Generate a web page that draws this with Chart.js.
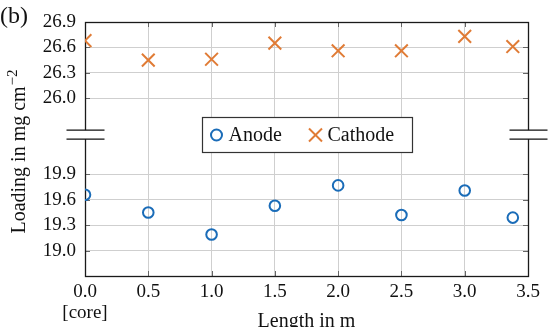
<!DOCTYPE html>
<html><head><meta charset="utf-8">
<script src="https://cdn.jsdelivr.net/npm/chart.js@4/dist/chart.umd.min.js"></script>
<style>html,body{margin:0;padding:0;background:#fff}#wrap{width:550px;height:327px}</style>
</head><body><div id="wrap"><canvas id="c" width="550" height="327"></canvas></div>
<script>
const positions = [0, 0.5, 1.0, 1.5, 2.0, 2.5, 3.0, 3.38];
const anode = [19.66, 19.45, 19.19, 19.53, 19.77, 19.42, 19.71, 19.39];
const cathode = [26.68, 26.45, 26.46, 26.65, 26.56, 26.56, 26.73, 26.61];
const xTicks = [0, 0.5, 1.0, 1.5, 2.0, 2.5, 3.0, 3.5];
const yTicks = [19.0, 19.3, 19.6, 19.9, 26.0, 26.3, 26.6, 26.9];
const seriesNames = ['Anode', 'Cathode'];
const panelLabel = '(b)';
const xTitle = 'Length in m';
const yTitle = 'Loading in mg cm';
const yTitleSup = '\u22122';

const GAP = 5.2;          // value span cut out by the axis break
const BREAK_AT = 20.37;   // axis coordinate where the break is drawn
const toAxis = v => v > 23 ? v - GAP : v;
const fromAxis = v => v > BREAK_AT ? v + GAP : v;

const BLUE = '#1a6cb8', ORANGE = '#e07b35';
const FONT = 'Liberation Serif';
const FS = 19;   // tick labels
const FL = 20;   // legend and titles

function seg(ctx, x1, y1, x2, y2) { ctx.beginPath(); ctx.moveTo(x1, y1); ctx.lineTo(x2, y2); ctx.stroke(); }
const al = v => Math.round(v) + 0.5;

const decor = {
  id: 'decor',
  beforeDatasetsDraw(chart) {
    const { ctx, chartArea: a, scales: { x, y } } = chart;
    ctx.save();
    ctx.strokeStyle = '#666'; ctx.lineWidth = 1;
    xTicks.forEach(t => { const px = al(x.getPixelForValue(t)); seg(ctx, px, a.top, px, a.top + 5); seg(ctx, px, a.bottom, px, a.bottom - 5); });
    yTicks.forEach(t => { const py = al(y.getPixelForValue(toAxis(t))); seg(ctx, a.left, py, a.left + 5, py); seg(ctx, a.right, py, a.right - 5, py); });
    ctx.strokeStyle = '#1a1a1a'; ctx.lineWidth = 1.3;
    ctx.strokeRect(al(a.left), al(a.top), Math.round(a.right) - Math.round(a.left), Math.round(a.bottom) - Math.round(a.top));
    ctx.restore();
  },
  afterDraw(chart) {
    const { ctx, chartArea: a, scales: { x, y } } = chart;
    ctx.save();
    // axis break marks
    const yb = y.getPixelForValue(BREAK_AT);
    [al(a.left), al(a.right)].forEach(px => {
      ctx.fillStyle = '#fff';
      ctx.fillRect(px - 19, yb - 4.5, 38, 9);
      ctx.strokeStyle = '#111'; ctx.lineWidth = 1.2;
      seg(ctx, px - 19, yb - 4.5, px + 19, yb - 4.5);
      seg(ctx, px - 19, yb + 4.5, px + 19, yb + 4.5);
    });
    // legend
    const cx = (a.left + a.right) / 2, lw = 210, lh = 35;
    const lx = Math.round(cx - lw / 2) + 0.5, ly = Math.round(yb - lh / 2) + 0.5;
    ctx.fillStyle = '#fff'; ctx.fillRect(lx, ly, lw, lh);
    ctx.strokeStyle = '#333'; ctx.lineWidth = 1.2; ctx.strokeRect(lx, ly, lw, lh);
    const my = ly + lh / 2;
    ctx.strokeStyle = BLUE; ctx.lineWidth = 2;
    ctx.beginPath(); ctx.arc(lx + 14, my, 5.5, 0, Math.PI * 2); ctx.stroke();
    ctx.strokeStyle = ORANGE; ctx.lineWidth = 2;
    const cxx = lx + 113, h = 6.5;
    seg(ctx, cxx - h, my - h, cxx + h, my + h); seg(ctx, cxx - h, my + h, cxx + h, my - h);
    ctx.fillStyle = '#111'; ctx.font = `${FL}px "${FONT}"`;
    ctx.textAlign = 'left'; ctx.textBaseline = 'middle';
    ctx.fillText(seriesNames[0], lx + 26, my + 1);
    ctx.fillText(seriesNames[1], lx + 125, my + 1);
    // panel label
    ctx.textBaseline = 'alphabetic';
    ctx.font = `24px "${FONT}"`;
    ctx.fillText(panelLabel, 0, 23);
    // x title
    ctx.font = `${FL}px "${FONT}"`;
    ctx.textAlign = 'center';
    ctx.fillText(xTitle, cx, 327);
    // y title
    ctx.save();
    ctx.translate(25, (a.top + a.bottom) / 2 + 3);
    ctx.rotate(-Math.PI / 2);
    ctx.font = `${FL}px "${FONT}"`;
    const w1 = ctx.measureText(yTitle).width;
    ctx.font = `${FL - 5}px "${FONT}"`;
    const w2 = ctx.measureText(yTitleSup).width;
    const start = -(w1 + w2) / 2;
    ctx.textAlign = 'left';
    ctx.font = `${FL}px "${FONT}"`;
    ctx.fillText(yTitle, start, 0);
    ctx.font = `${FL - 5}px "${FONT}"`;
    ctx.fillText(yTitleSup, start + w1 + 1, -8);
    ctx.restore();
    ctx.restore();
  }
};

new Chart(document.getElementById('c'), {
  type: 'scatter',
  data: {
    datasets: [
      { label: seriesNames[0], data: positions.map((p, i) => ({ x: p, y: toAxis(anode[i]) })),
        pointStyle: 'circle', pointRadius: 5.3, pointBorderWidth: 2, borderColor: BLUE, backgroundColor: 'rgba(0,0,0,0)' },
      { label: seriesNames[1], data: positions.map((p, i) => ({ x: p, y: toAxis(cathode[i]) })),
        pointStyle: 'crossRot', pointRadius: 9, pointBorderWidth: 2, borderColor: ORANGE, backgroundColor: ORANGE }
    ]
  },
  options: {
    responsive: false, animation: false, devicePixelRatio: 1,
    layout: { padding: { left: 0, right: 22, top: 22, bottom: 0 } },
    plugins: { legend: { display: false }, tooltip: { enabled: false } },
    scales: {
      x: {
        type: 'linear', min: 0, max: 3.5,
        afterFit: s => { s.height = 51; },
        afterBuildTicks: s => { s.ticks = xTicks.map(v => ({ value: v })); },
        ticks: { font: { family: FONT, size: FS, lineHeight: 1.1 }, color: '#111', padding: 6, maxRotation: 0,
          callback: v => v === 0 ? [v.toFixed(1), '[core]'] : v.toFixed(1) },
        grid: { color: '#cfcfcf', lineWidth: 1, drawTicks: false },
        border: { display: false }
      },
      y: {
        min: 18.7, max: 21.7,
        afterFit: s => { s.width = 85; },
        afterBuildTicks: s => { s.ticks = yTicks.map(v => ({ value: toAxis(v) })); },
        ticks: { font: { family: FONT, size: FS }, color: '#111', padding: 9,
          callback: v => fromAxis(v).toFixed(1) },
        grid: { color: '#cfcfcf', lineWidth: 1, drawTicks: false },
        border: { display: false }
      }
    }
  },
  plugins: [decor]
});
</script>
</body></html>
